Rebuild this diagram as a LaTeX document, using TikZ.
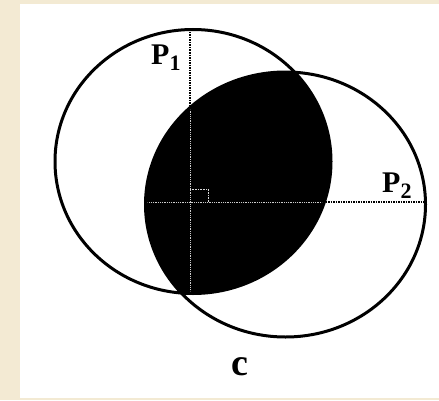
\documentclass[tikz,border=0pt]{standalone}
\usepackage{fontspec}
\setmainfont{Liberation Serif}
\usepackage{xcolor}
\usetikzlibrary{positioning}
\definecolor{paper}{HTML}{F3EAD3}
\newcommand{\lowidx}[1]{\raisebox{-6pt}{\fontsize{22}{22}\selectfont #1}}

\begin{document}
\begin{tikzpicture}[
  x=1pt, y=1pt,
  ring/.style={line width=3pt},
  axis/.style={densely dotted, line width=1.5pt},
  inaxis/.style={densely dotted, line width=0.8pt, gray!40},
  lbl/.style={font=\bfseries\fontsize{30}{30}\selectfont, inner sep=0pt, anchor=base west}
]
\fill[paper] (0,0) rectangle (439,400);
\fill[white] (20,2) rectangle (439,396);
\useasboundingbox (0,0) rectangle (439,400);

\coordinate (L) at (193,238.5);
\coordinate (R) at (285.5,195.5);
\coordinate (topP1) at (190,370.5);
\coordinate (botP1) at (190,106.5);
\coordinate (leftP2) at (145.5,198);
\coordinate (rightP2) at (425.5,198);

% common part of the two circles
\begin{scope}
  \clip (L) ellipse [x radius=138, y radius=132];
  \fill (R) ellipse [x radius=140, y radius=132.5];
\end{scope}
\draw[ring] (L) ellipse [x radius=138, y radius=132];
\draw[ring] (R) ellipse [x radius=140, y radius=132.5];

\draw[axis] (topP1) -- (botP1);
\draw[axis] (leftP2) -- (rightP2);
\begin{scope}
  \clip (L) ellipse [x radius=136, y radius=130];
  \clip (R) ellipse [x radius=138, y radius=130.5];
  \draw[inaxis] (topP1) -- (botP1);
  \draw[inaxis] (leftP2) -- (rightP2);
  \draw[inaxis, line width=0.6pt, gray!30] (190,211) -- (208,211) -- (208,198);
\end{scope}

\node[lbl] (P1) at (151,335) {P\lowidx{1}};
\node[lbl] (P2) at (382,208) {P\lowidx{2}};
\node[lbl, font=\bfseries\fontsize{38}{38}\selectfont, anchor=base] (c) at (240,25) {c};
\end{tikzpicture}
\end{document}
